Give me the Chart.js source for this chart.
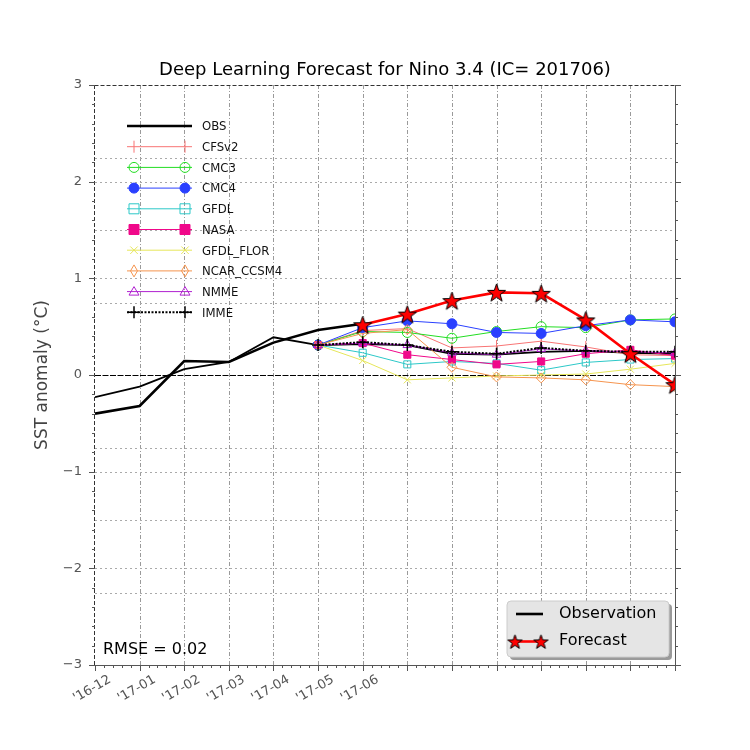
<!DOCTYPE html>
<html><head><meta charset="utf-8">
<script src="https://cdn.jsdelivr.net/npm/chart.js@4.4.0/dist/chart.umd.min.js"></script>
<style>html,body{margin:0;padding:0;background:#fff;}#wrap{width:750px;height:750px;position:relative;}canvas{display:block;}</style>
</head><body><div id="wrap"><canvas id="c" width="750" height="750" style="width:750px;height:750px"></canvas></div>
<script>
// ---------- data ----------
const xTickLabels = ["'16-12","'17-01","'17-02","'17-03","'17-04","'17-05","'17-06"];
const yTickLabels = {"-3":"\u22123","-2":"\u22122","-1":"\u22121","0":"0","1":"1","2":"2","3":"3"};
const obsMonths = [0,1,2,3,4,5,6];
const obsValues = [-0.40,-0.32,0.145,0.135,0.335,0.465,0.53];
const obsThinMonths = [0,1,2,3,4,5,6,7,8,9,10,11,12,13];
const obsThinValues = [-0.23,-0.12,0.06,0.135,0.39,0.31,0.32,0.31,0.22,0.21,0.24,0.25,0.23,0.22];
const modelMonths = [5,6,7,8,9,10,11,12,13];
const cfsv2 = [0.31,0.46,0.48,0.28,0.30,0.35,0.29,0.21,0.20];
const cmc3 = [0.31,0.45,0.44,0.38,0.45,0.50,0.49,0.57,0.58];
const cmc4 = [0.31,0.49,0.56,0.53,0.44,0.43,0.51,0.57,0.55];
const gfdl = [0.31,0.23,0.11,0.14,0.12,0.05,0.13,0.16,0.17];
const nasa = [0.31,0.33,0.21,0.16,0.11,0.14,0.22,0.26,0.20];
const gfdlFlor = [0.31,0.15,-0.05,-0.03,-0.01,0.00,0.01,0.06,0.12];
const ncar = [0.31,0.43,0.47,0.08,-0.02,-0.03,-0.05,-0.10,-0.12];
const nmme = [0.31,0.33,0.31,0.23,0.21,0.27,0.25,0.24,0.23];
const imme = [0.31,0.34,0.31,0.24,0.22,0.28,0.25,0.24,0.24];
const fcstMonths = [6,7,8,9,10,11,12,13];
const forecast = [0.52,0.63,0.77,0.855,0.845,0.57,0.22,-0.10];
const hGridValues = [2.25,2,1.5,1,0.75,-0.75,-1,-1.5,-2,-2.25];
const rmseText = "RMSE = 0.02";
const titleText = "Deep Learning Forecast for Nino 3.4 (IC= 201706)";

// ---------- helpers ----------
function pts(xs, ys){ return ys.map((v,k)=>({x:xs[k], y:v})); }
function makeStar(size){
  const c=document.createElement('canvas'); c.width=size; c.height=size;
  const g=c.getContext('2d'); const cx=size/2, cy=size/2+size*0.05, R=size/2-1, r=R*0.4;
  g.beginPath();
  for(let k=0;k<10;k++){const rr=k%2?r:R;const a=-Math.PI/2+k*Math.PI/5;g.lineTo(cx+rr*Math.cos(a),cy+rr*Math.sin(a));}
  g.closePath(); g.fillStyle='#ff0000'; g.fill(); g.strokeStyle='#000'; g.lineWidth=1; g.stroke();
  return c;
}
const star20 = makeStar(21);
const star15 = makeStar(17);

const models = [
  {name:'CFSv2', data:cfsv2, color:'#f87474', style:'line', rot:90, fill:false, r:6},
  {name:'CMC3', data:cmc3, color:'#22dd22', style:'circle', fill:false, r:5},
  {name:'CMC4', data:cmc4, color:'#2a40ff', style:'circle', fill:true, r:5},
  {name:'GFDL', data:gfdl, color:'#2cc8c8', style:'rect', fill:false, r:5},
  {name:'NASA', data:nasa, color:'#f0088a', style:'rect', fill:true, r:5},
  {name:'GFDL_FLOR', data:gfdlFlor, color:'#e6e65a', style:'crossRot', fill:false, r:5},
  {name:'NCAR_CCSM4', data:ncar, color:'#f5944e', style:'rectRot', fill:false, r:5},
  {name:'NMME', data:nmme, color:'#b020d0', style:'triangle', fill:false, r:5},
];

const datasets = [];
datasets.push({label:'OBS', data:pts(obsThinMonths,obsThinValues), borderColor:'#000', borderWidth:1.8, pointRadius:0, order:30, clip:0});
models.forEach((m,k)=>{
  datasets.push({label:m.name, data:pts(modelMonths,m.data), borderColor:m.color, borderWidth:1,
    pointStyle:m.style, pointRotation:m.rot||0, pointRadius:m.r, pointBorderColor:m.color,
    pointBackgroundColor:m.fill?m.color:'rgba(0,0,0,0)', pointBorderWidth:1, order:29-k, clip:0});
});
datasets.push({label:'IMME', data:pts(modelMonths,imme), borderColor:'#000', borderWidth:2, borderDash:[2,1.5],
  pointStyle:'cross', pointRadius:6, pointBorderColor:'#000', pointBorderWidth:1.5, order:5, clip:0});
datasets.push({label:'Observation', data:pts(obsMonths,obsValues), borderColor:'#000', borderWidth:2.6, pointRadius:0, order:2, clip:0});
datasets.push({label:'Forecast', data:pts(fcstMonths,forecast), borderColor:'#ff0000', borderWidth:2.6,
  pointStyle:star20, pointRadius:10, order:1, clip:0});

// ---------- marker drawing for legend ----------
function drawMarker(ctx, m, x, y){
  ctx.save(); ctx.strokeStyle=m.color; ctx.fillStyle=m.color; ctx.lineWidth=1;
  const r=m.r;
  ctx.beginPath();
  if(m.style==='circle'){ctx.arc(x,y,r,0,Math.PI*2); if(m.fill)ctx.fill(); ctx.stroke();}
  else if(m.style==='rect'){ctx.rect(x-r,y-r,2*r,2*r); if(m.fill)ctx.fill(); ctx.stroke();}
  else if(m.style==='line'){ctx.moveTo(x,y-r);ctx.lineTo(x,y+r);ctx.stroke();}
  else if(m.style==='crossRot'){const d=r*0.75;ctx.moveTo(x-d,y-d);ctx.lineTo(x+d,y+d);ctx.moveTo(x+d,y-d);ctx.lineTo(x-d,y+d);ctx.stroke();}
  else if(m.style==='rectRot'){ctx.moveTo(x,y-r*1.2);ctx.lineTo(x+r*0.7,y);ctx.lineTo(x,y+r*1.2);ctx.lineTo(x-r*0.7,y);ctx.closePath();ctx.stroke();}
  else if(m.style==='triangle'){ctx.moveTo(x,y-r);ctx.lineTo(x+r,y+r*0.7);ctx.lineTo(x-r,y+r*0.7);ctx.closePath();ctx.stroke();}
  else if(m.style==='cross'){ctx.lineWidth=1.5;ctx.moveTo(x-r,y);ctx.lineTo(x+r,y);ctx.moveTo(x,y-r);ctx.lineTo(x,y+r);ctx.stroke();}
  ctx.restore();
}

const decor = {
  id:'decor',
  beforeDatasetsDraw(chart){
    const {ctx, chartArea:a, scales:{x,y}} = chart;
    ctx.save();
    ctx.strokeStyle='#9a9a9a'; ctx.lineWidth=1; ctx.setLineDash([4,2,1,2]);
    for(let i=1;i<=12;i++){const px=Math.round(x.getPixelForValue(i))+0.5;ctx.beginPath();ctx.moveTo(px,a.top);ctx.lineTo(px,a.bottom);ctx.stroke();}
    ctx.strokeStyle='#aaaaaa'; ctx.setLineDash([2,3]);
    hGridValues.forEach(v=>{const py=Math.round(y.getPixelForValue(v))+0.5;ctx.beginPath();ctx.moveTo(a.left,py);ctx.lineTo(a.right,py);ctx.stroke();});
    ctx.strokeStyle='#000'; ctx.setLineDash([6,1.5]);
    const pz=Math.round(y.getPixelForValue(0))+0.5; ctx.beginPath();ctx.moveTo(a.left,pz);ctx.lineTo(a.right,pz);ctx.stroke();
    ctx.restore();
  },
  afterDatasetsDraw(chart){
    const {ctx, chartArea:a, scales:{x,y}} = chart;
    ctx.save();
    ctx.lineWidth=1;
    ctx.strokeStyle='#555'; ctx.setLineDash([]);
    ctx.beginPath(); ctx.moveTo(a.left,a.bottom+0.5); ctx.lineTo(a.right,a.bottom+0.5); ctx.stroke();
    ctx.beginPath(); ctx.moveTo(a.right+0.5,a.top); ctx.lineTo(a.right+0.5,a.bottom); ctx.stroke();
    ctx.strokeStyle='#333'; ctx.setLineDash([4,2]);
    ctx.beginPath(); ctx.moveTo(a.left-0.5,a.top+0.5); ctx.lineTo(a.right,a.top+0.5); ctx.stroke();
    ctx.beginPath(); ctx.moveTo(a.left-0.5,a.top); ctx.lineTo(a.left-0.5,a.bottom); ctx.stroke();
    ctx.setLineDash([]); ctx.strokeStyle='#555';
    for(let i=0;i<=13;i++){
      const px=Math.round(x.getPixelForValue(i))+0.5;
      ctx.beginPath();ctx.moveTo(px,a.bottom);ctx.lineTo(px,a.bottom+6);ctx.stroke();
      if(i<13){for(let k=1;k<5;k++){const pm=Math.round(x.getPixelForValue(i+k/5))+0.5;ctx.beginPath();ctx.moveTo(pm,a.bottom);ctx.lineTo(pm,a.bottom+3);ctx.stroke();}}
    }
    for(let j=-15;j<=15;j++){
      const v=j/5; const py=Math.round(y.getPixelForValue(v))+0.5; const len=(j%5===0)?6:3;
      ctx.beginPath();ctx.moveTo(a.left,py);ctx.lineTo(a.left-len,py);ctx.stroke();
      ctx.beginPath();ctx.moveTo(a.right,py);ctx.lineTo(a.right+len,py);ctx.stroke();
    }
    const entries=[{name:'OBS',color:'#000',lw:2.5}].concat(models.map(m=>({name:m.name,color:m.color,lw:1,m})))
      .concat([{name:'IMME',color:'#000',lw:2,dash:[2,1.5],m:{style:'cross',color:'#000',r:6}}]);
    ctx.font="13px 'DejaVu Sans Condensed','Liberation Sans Narrow','DejaVu Sans',sans-serif";
    ctx.textBaseline='middle'; ctx.textAlign='left';
    entries.forEach((e,k)=>{
      const ly=126+k*20.7;
      ctx.save(); ctx.strokeStyle=e.color; ctx.lineWidth=e.lw; ctx.setLineDash(e.dash||[]);
      ctx.beginPath();ctx.moveTo(127,ly);ctx.lineTo(192,ly);ctx.stroke();ctx.restore();
      if(e.m){drawMarker(ctx,e.m,134,ly);drawMarker(ctx,e.m,185,ly);}
      ctx.fillStyle='#111'; ctx.fillText(e.name,202,ly+1);
    });
    const bx=507,by=601,bw=162,bh=56;
    function rr(x0,y0,w,h,r){ctx.beginPath();ctx.moveTo(x0+r,y0);ctx.lineTo(x0+w-r,y0);ctx.quadraticCurveTo(x0+w,y0,x0+w,y0+r);ctx.lineTo(x0+w,y0+h-r);ctx.quadraticCurveTo(x0+w,y0+h,x0+w-r,y0+h);ctx.lineTo(x0+r,y0+h);ctx.quadraticCurveTo(x0,y0+h,x0,y0+h-r);ctx.lineTo(x0,y0+r);ctx.quadraticCurveTo(x0,y0,x0+r,y0);ctx.closePath();}
    ctx.fillStyle='#9a9a9a'; rr(bx+3,by+3,bw,bh,4); ctx.fill();
    ctx.fillStyle='#e5e5e5'; rr(bx,by,bw,bh,4); ctx.fill(); ctx.strokeStyle='#cccccc'; ctx.lineWidth=1; ctx.stroke();
    ctx.strokeStyle='#000'; ctx.lineWidth=2.6; ctx.beginPath(); ctx.moveTo(516,614); ctx.lineTo(543,614); ctx.stroke();
    ctx.strokeStyle='#ff0000'; ctx.beginPath(); ctx.moveTo(515,641.5); ctx.lineTo(541,641.5); ctx.stroke();
    ctx.drawImage(star15,515-8.5,641.5-8.5); ctx.drawImage(star15,541-8.5,641.5-8.5);
    ctx.font="16px 'DejaVu Sans',sans-serif"; ctx.fillStyle='#000'; ctx.textBaseline='middle';
    ctx.fillText('Observation',559,614); ctx.fillText('Forecast',559,641);
    ctx.fillText(rmseText,103,650);
    ctx.font="18px 'DejaVu Sans',sans-serif"; ctx.textAlign='center';
    ctx.fillText(titleText,(a.left+a.right)/2,70);
    ctx.restore();
  }
};

new Chart(document.getElementById('c'), {
  type:'line',
  data:{datasets},
  options:{
    responsive:false, animation:false, devicePixelRatio:1,
    layout:{padding:{left:30,top:85,right:75,bottom:0}},
    elements:{line:{tension:0}},
    plugins:{legend:{display:false},tooltip:{enabled:false},title:{display:false}},
    scales:{
      x:{type:'linear',min:0,max:13,
        grid:{display:false,drawTicks:false}, border:{display:false},
        ticks:{stepSize:1,autoSkip:false,minRotation:30,maxRotation:30,padding:7,labelOffset:15,
          color:'#555',font:{family:"'DejaVu Sans',sans-serif",size:13},
          callback:(v)=> (Number.isInteger(v) && v<xTickLabels.length) ? xTickLabels[v] : ''},
        afterFit:(s)=>{s.height=85;}},
      y:{type:'linear',min:-3,max:3,
        grid:{display:false,drawTicks:false}, border:{display:false},
        ticks:{stepSize:1,padding:13,color:'#555',font:{family:"'DejaVu Sans',sans-serif",size:13},
          callback:(v)=> yTickLabels[String(v)] ?? ''},
        title:{display:true,text:'SST anomaly (\u00B0C)',color:'#444',font:{family:"'DejaVu Sans',sans-serif",size:17},padding:{top:2,bottom:0}},
        afterFit:(s)=>{s.width=65;}}
    }
  },
  plugins:[decor]
});
</script></body></html>
